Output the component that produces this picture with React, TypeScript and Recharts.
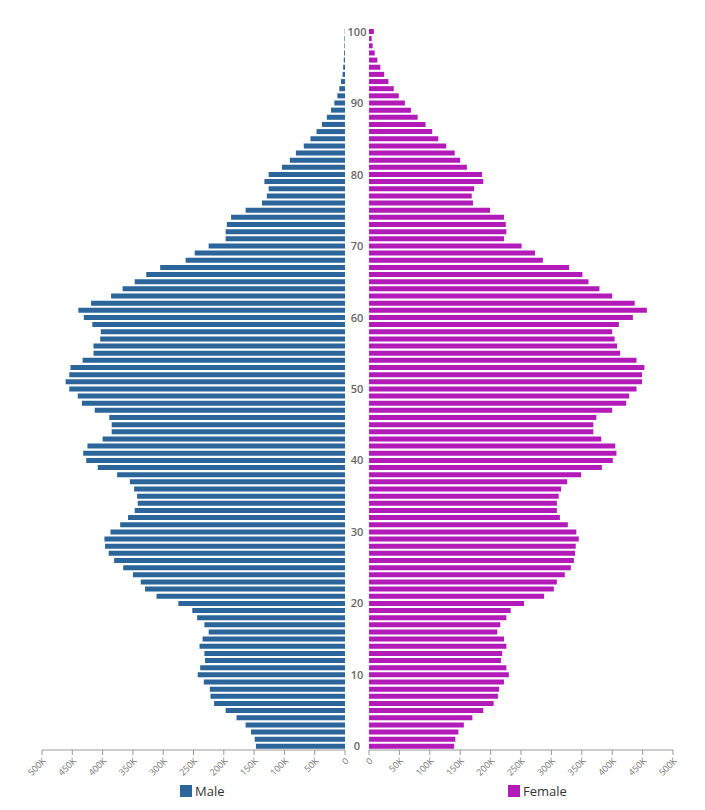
import React from "react";
import { Bar, BarChart, XAxis, YAxis } from "recharts";

const ages = Array.from({ length: 101 }, (_, i) => i);

// values in thousands, index = age 0..100
const maleK = [
  147, 149, 155, 164, 179, 197, 216, 222, 223, 233,
  243, 239, 231, 232, 240, 235, 225, 232, 244, 252,
  275, 311, 330, 337, 350, 366, 381, 390, 396, 397,
  387, 371, 358, 347, 342, 343, 348, 355, 376, 408,
  427, 432, 425, 400, 385, 385, 389, 413, 434, 441,
  455, 461, 455, 453, 433, 415, 415, 404, 403, 417,
  431, 440, 419, 386, 367, 347, 328, 305, 263, 248,
  225, 197, 197, 195, 188, 164, 137, 129, 126, 133,
  126, 104, 91, 81, 68, 57, 47, 38, 30, 23,
  17.6, 12.6, 9.4, 6.6, 4, 3, 2, 1.5, 1, 1, 0.5,
];

const femaleK = [
  140, 142, 147, 156, 170, 188, 205, 212, 214, 222,
  230, 226, 217, 219, 226, 222, 211, 216, 226, 233,
  255, 288, 304, 309, 322, 332, 337, 339, 340, 345,
  341, 327, 314, 309, 309, 312, 316, 326, 349, 383,
  401, 407, 405, 382, 369, 369, 374, 400, 423, 428,
  440, 449, 449, 453, 440, 413, 408, 404, 400, 411,
  434, 457, 437, 400, 379, 361, 351, 329, 286, 273,
  251, 222, 226, 225, 222, 199, 171, 169, 173, 188,
  186, 161, 150, 141, 127, 114, 104, 93, 80, 69,
  59, 49, 40.7, 32, 25, 18.7, 13.8, 9.4, 6, 4.4, 8,
];

const xTicks = [0, 50000, 100000, 150000, 200000, 250000, 300000, 350000, 400000, 450000, 500000];

const data = ages.map((age, i) => ({
  age: String(age),
  male: maleK[i] * 1000,
  female: femaleK[i] * 1000,
}));

const MALE = "#2b6599";
const FEMALE = "#b21bb8";
const FONT = "'Open Sans', 'Noto Sans', sans-serif";

const fmt = (v: number) => (v === 0 ? "0" : `${v / 1000}K`);

function AgeTick(props: any) {
  const { y, payload } = props;
  const a = Number(payload.value);
  if (a % 10 !== 0) return <g />;
  return (
    <text x={12} y={y} dy={4} textAnchor="middle" fontSize={11} fontWeight={600} fill="#666" fontFamily={FONT}>
      {a}
    </text>
  );
}

const xTick = { fontSize: 9, fill: "#777", fontFamily: FONT };

export default function App() {
  return (
    <div style={{ position: "absolute", left: 0, top: 0, width: 705, height: 810, background: "#fff", fontFamily: FONT }}>
      <div style={{ position: "absolute", left: 0, top: 0 }}>
        <BarChart
          width={360}
          height={810}
          data={data}
          layout="vertical"
          margin={{ top: 28, right: 15, left: 42, bottom: 20 }}
          barCategoryGap={1}
        >
          <XAxis
            type="number"
            dataKey="male"
            domain={[0, 500000]}
            ticks={xTicks}
            reversed
            tickFormatter={fmt}
            tick={xTick}
            angle={-45}
            textAnchor="end"
            height={40}
            stroke="#999"
            tickSize={5}
            interval={0}
          />
          <YAxis type="category" dataKey="age" reversed hide width={0} />
          <Bar dataKey="male" fill={MALE} isAnimationActive={false} />
        </BarChart>
      </div>
      <div style={{ position: "absolute", left: 345, top: 0 }}>
        <BarChart
          width={360}
          height={810}
          data={data}
          layout="vertical"
          margin={{ top: 28, right: 32, left: 0, bottom: 20 }}
          barCategoryGap={1}
        >
          <XAxis
            type="number"
            dataKey="female"
            domain={[0, 500000]}
            ticks={xTicks}
            tickFormatter={fmt}
            tick={xTick}
            angle={-45}
            textAnchor="end"
            height={40}
            stroke="#999"
            tickSize={5}
            interval={0}
          />
          <YAxis
            type="category"
            dataKey="age"
            reversed
            width={24}
            axisLine={false}
            tickLine={false}
            interval={0}
            tick={<AgeTick />}
          />
          <Bar dataKey="female" fill={FEMALE} isAnimationActive={false} />
        </BarChart>
      </div>
      <div style={{ position: "absolute", left: 180, top: 782, display: "flex", alignItems: "center", fontSize: 13, color: "#333" }}>
        <span style={{ display: "inline-block", width: 12, height: 12, background: MALE, marginRight: 3 }} />
        Male
      </div>
      <div style={{ position: "absolute", left: 508, top: 782, display: "flex", alignItems: "center", fontSize: 13, color: "#333" }}>
        <span style={{ display: "inline-block", width: 12, height: 12, background: FEMALE, marginRight: 3 }} />
        Female
      </div>
    </div>
  );
}
